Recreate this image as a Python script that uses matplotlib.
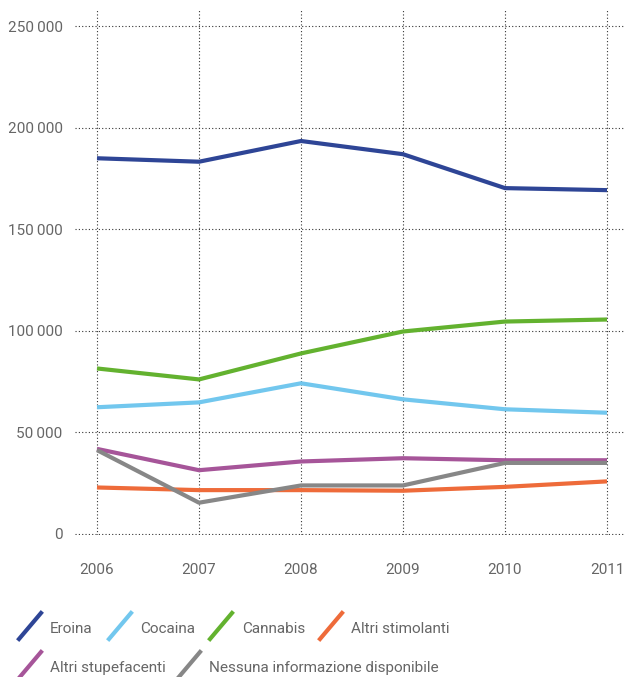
import matplotlib.pyplot as plt
from matplotlib.lines import Line2D
from matplotlib.ticker import FuncFormatter

plt.rcParams['font.family'] = ['Roboto', 'DejaVu Sans']

years = [2006, 2007, 2008, 2009, 2010, 2011]
eroina = [185000, 183300, 193500, 187000, 170300, 169300]
cocaina = [62400, 64800, 74200, 66300, 61400, 59700]
cannabis = [81500, 76100, 88900, 99700, 104600, 105600]
altri_stimolanti = [22900, 21600, 21600, 21300, 23200, 25900]
altri_stupefacenti = [41900, 31400, 35700, 37300, 36300, 36300]
nessuna_info = [41300, 15400, 23900, 23900, 35000, 35000]

series = [
    ('Eroina', eroina, '#2e4596'),
    ('Cocaina', cocaina, '#72c7ee'),
    ('Cannabis', cannabis, '#63b22f'),
    ('Altri stimolanti', altri_stimolanti, '#ee6b3a'),
    ('Altri stupefacenti', altri_stupefacenti, '#a65599'),
    ('Nessuna informazione disponibile', nessuna_info, '#878787'),
]

TEXT = '#666666'
W, H = 624, 677

fig = plt.figure(figsize=(W / 100, H / 100), dpi=100)
ax = fig.add_axes([75 / W, 142 / H, 1 - 75 / W, 525 / H])

for name, vals, col in series:
    ax.plot(years, vals, color=col, lw=3, solid_capstyle='butt', zorder=3)

ax.set_xlim(2006 - 22 / 102, 2011 + 17 / 102)
ax.set_ylim(-500, 258000)
ax.set_xticks(years)
ax.set_yticks([0, 50000, 100000, 150000, 200000, 250000])
ax.yaxis.set_major_formatter(FuncFormatter(
    lambda v, p: '0' if v == 0 else f'{int(v):,}'.replace(',', '\u2009')))

ax.grid(True, color='#333333', lw=0.8, linestyle=(0, (1, 2)))
for s in ax.spines.values():
    s.set_visible(False)
ax.tick_params(length=0, labelsize=11, labelcolor=TEXT)
ax.tick_params(axis='y', pad=9)
ax.tick_params(axis='x', pad=20)

# legend drawn by hand with slanted strokes
def legend_item(x, tx, y, label, col):
    fig.add_artist(Line2D([x / W, (x + 22) / W], [1 - (y + 13) / H, 1 - (y - 13) / H],
                          color=col, lw=3, transform=fig.transFigure))
    fig.text(tx / W, 1 - (y + 3) / H, label, color=TEXT, fontsize=11,
             va='center', ha='left')

legend_item(19, 50, 626, 'Eroina', series[0][2])
legend_item(109, 140, 626, 'Cocaina', series[1][2])
legend_item(210, 242, 626, 'Cannabis', series[2][2])
legend_item(320, 351, 626, 'Altri stimolanti', series[3][2])
legend_item(19, 50, 665, 'Altri stupefacenti', series[4][2])
legend_item(178, 209, 665, 'Nessuna informazione disponibile', series[5][2])

fig.savefig('out.png', dpi=100)
